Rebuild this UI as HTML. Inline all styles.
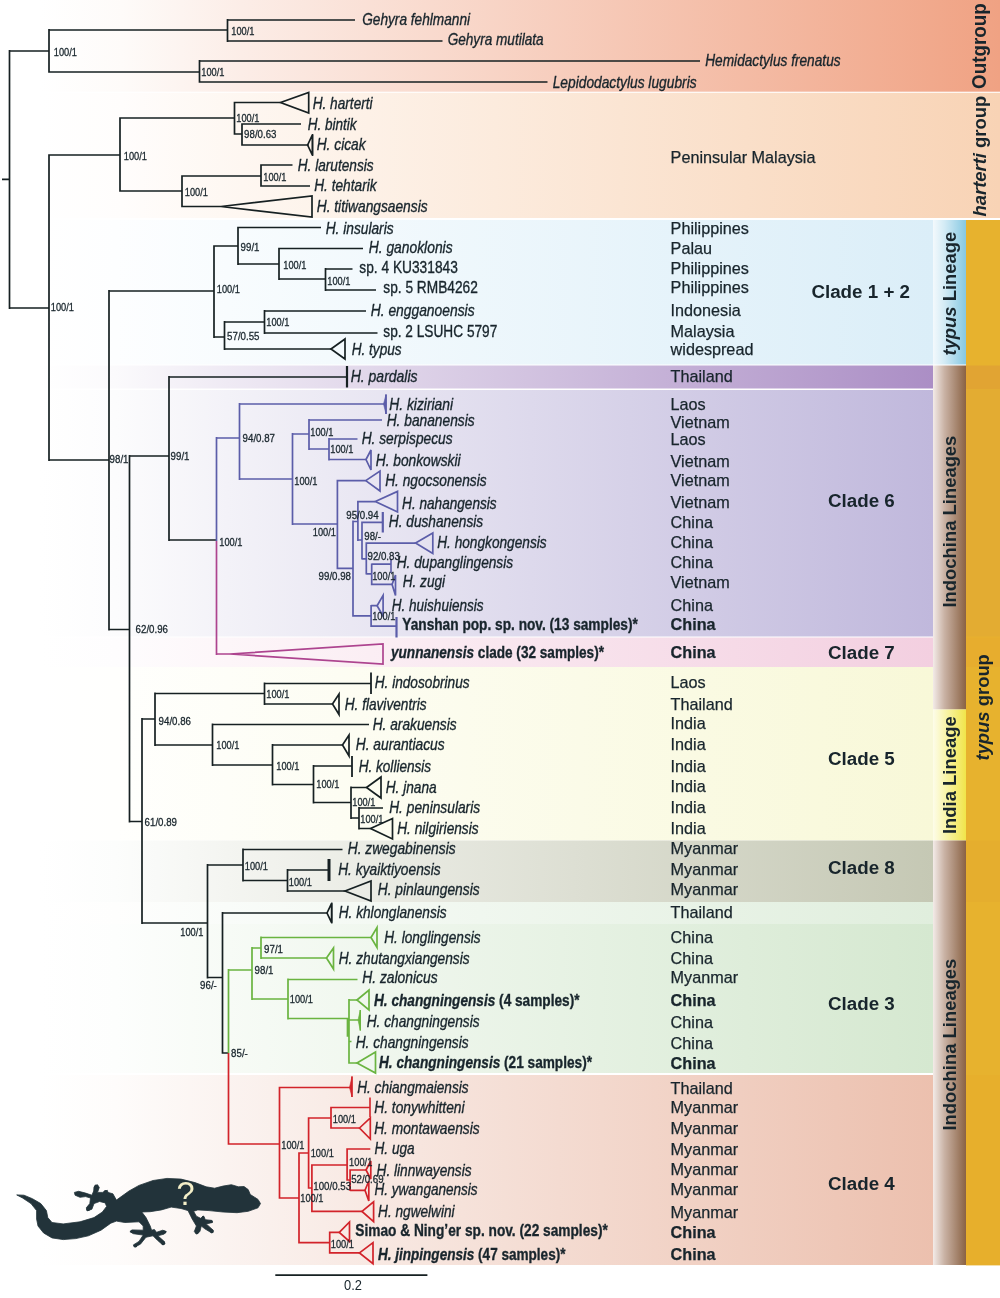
<!DOCTYPE html>
<html><head><meta charset="utf-8"><title>Phylogeny</title>
<style>html,body{margin:0;padding:0;background:#fff}svg{display:block;will-change:transform}text{font-family:"Liberation Sans",sans-serif}</style>
</head><body>
<svg width="1000" height="1298" viewBox="0 0 1000 1298">
<rect width="1000" height="1298" fill="#ffffff"/>
<defs>
<linearGradient id="b0" gradientUnits="userSpaceOnUse" x1="40" x2="1000" y1="0" y2="0"><stop offset="0" stop-color="#ffffff"/><stop offset="0.085" stop-color="#fefbf9"/><stop offset="0.21" stop-color="#fcede7"/><stop offset="1" stop-color="#f0a283"/></linearGradient>
<linearGradient id="b1" gradientUnits="userSpaceOnUse" x1="40" x2="1000" y1="0" y2="0"><stop offset="0" stop-color="#ffffff"/><stop offset="0.085" stop-color="#fffdfc"/><stop offset="0.21" stop-color="#fef7f1"/><stop offset="1" stop-color="#f8d3b5"/></linearGradient>
<linearGradient id="b2" gradientUnits="userSpaceOnUse" x1="40" x2="933" y1="0" y2="0"><stop offset="0" stop-color="#ffffff"/><stop offset="0.085" stop-color="#fdfeff"/><stop offset="0.21" stop-color="#f8fcfe"/><stop offset="1" stop-color="#dbeef8"/></linearGradient>
<linearGradient id="b3" gradientUnits="userSpaceOnUse" x1="40" x2="933" y1="0" y2="0"><stop offset="0" stop-color="#ffffff"/><stop offset="0.085" stop-color="#fbfafc"/><stop offset="0.21" stop-color="#efeaf4"/><stop offset="1" stop-color="#ab8ec5"/></linearGradient>
<linearGradient id="b4" gradientUnits="userSpaceOnUse" x1="40" x2="933" y1="0" y2="0"><stop offset="0" stop-color="#ffffff"/><stop offset="0.085" stop-color="#fcfcfd"/><stop offset="0.21" stop-color="#f3f2f8"/><stop offset="1" stop-color="#c0b8dc"/></linearGradient>
<linearGradient id="b5" gradientUnits="userSpaceOnUse" x1="40" x2="933" y1="0" y2="0"><stop offset="0" stop-color="#ffffff"/><stop offset="0.085" stop-color="#fefdfe"/><stop offset="0.21" stop-color="#fdf6f9"/><stop offset="1" stop-color="#f3cfe0"/></linearGradient>
<linearGradient id="b6" gradientUnits="userSpaceOnUse" x1="40" x2="933" y1="0" y2="0"><stop offset="0" stop-color="#ffffff"/><stop offset="0.085" stop-color="#fffffd"/><stop offset="0.21" stop-color="#fefef8"/><stop offset="1" stop-color="#f8f8d8"/></linearGradient>
<linearGradient id="b7" gradientUnits="userSpaceOnUse" x1="40" x2="933" y1="0" y2="0"><stop offset="0" stop-color="#ffffff"/><stop offset="0.085" stop-color="#fcfdfc"/><stop offset="0.21" stop-color="#f4f5f1"/><stop offset="1" stop-color="#c5c8b4"/></linearGradient>
<linearGradient id="b8" gradientUnits="userSpaceOnUse" x1="40" x2="933" y1="0" y2="0"><stop offset="0" stop-color="#ffffff"/><stop offset="0.085" stop-color="#fefefd"/><stop offset="0.21" stop-color="#f9fcf9"/><stop offset="1" stop-color="#e0eedd"/></linearGradient>
<linearGradient id="b9" gradientUnits="userSpaceOnUse" x1="40" x2="933" y1="0" y2="0"><stop offset="0" stop-color="#ffffff"/><stop offset="0.085" stop-color="#fdfefd"/><stop offset="0.21" stop-color="#f7fbf6"/><stop offset="1" stop-color="#d5e8d0"/></linearGradient>
<linearGradient id="b10" gradientUnits="userSpaceOnUse" x1="40" x2="933" y1="0" y2="0"><stop offset="0" stop-color="#ffffff"/><stop offset="0.085" stop-color="#fefcfb"/><stop offset="0.21" stop-color="#fbf3f0"/><stop offset="1" stop-color="#ecc0ae"/></linearGradient>
<linearGradient id="gblue" x1="0" x2="1" y1="0" y2="0"><stop offset="0" stop-color="#f3f9fc"/><stop offset="0.35" stop-color="#d3ebf5"/><stop offset="1" stop-color="#86c8e2"/></linearGradient>
<linearGradient id="gbrown" x1="0" x2="1" y1="0" y2="0"><stop offset="0" stop-color="#f3ebe8"/><stop offset="0.35" stop-color="#c9b2a4"/><stop offset="1" stop-color="#8a6244"/></linearGradient>
<linearGradient id="gyel" x1="0" x2="1" y1="0" y2="0"><stop offset="0" stop-color="#fdfce9"/><stop offset="0.4" stop-color="#f8f4a8"/><stop offset="1" stop-color="#f1e54a"/></linearGradient>
</defs>
<rect x="40" y="0" width="960" height="91.7" fill="url(#b0)"/>
<rect x="40" y="92.8" width="960" height="125.2" fill="url(#b1)"/>
<rect x="40" y="220" width="893" height="144.5" fill="url(#b2)"/>
<rect x="40" y="365.5" width="893" height="23.0" fill="url(#b3)"/>
<rect x="40" y="390" width="893" height="246.5" fill="url(#b4)"/>
<rect x="40" y="637.5" width="893" height="29.5" fill="url(#b5)"/>
<rect x="40" y="667" width="893" height="173.5" fill="url(#b6)"/>
<rect x="40" y="840.5" width="893" height="61.5" fill="url(#b7)"/>
<rect x="40" y="902" width="893" height="22" fill="url(#b8)"/>
<rect x="40" y="924" width="893" height="149" fill="url(#b9)"/>
<rect x="40" y="1075" width="893" height="190" fill="url(#b10)"/>
<rect x="933" y="220" width="33" height="144.5" fill="url(#gblue)"/>
<rect x="933" y="365.5" width="33" height="344" fill="url(#gbrown)"/>
<rect x="933" y="709.5" width="33" height="131" fill="url(#gyel)"/>
<rect x="933" y="840.5" width="33" height="424.5" fill="url(#gbrown)"/>
<rect x="966" y="220" width="34" height="1045.4" fill="#e7b22e"/>
<rect x="966" y="365.5" width="34" height="23.5" fill="#d88a3c" opacity="0.35"/>
<rect x="966" y="389" width="34" height="247.5" fill="#d89a40" opacity="0.25"/>
<rect x="966" y="637.5" width="34" height="29.5" fill="#e8a030" opacity="0.25"/>
<rect x="966" y="840.5" width="34" height="61.5" fill="#e0a030" opacity="0.2"/>
<rect x="966" y="1075" width="34" height="190" fill="#e8a828" opacity="0.3"/>
<path d="M16.7 1194.9 L24 1195.2 L32.4 1198.7 L40.8 1203.6 L46.4 1210.6 L47.8 1217.6 L52 1222.5 L63.2 1223.9 L80 1221.8 L94 1217.6 L102.4 1212 L106.6 1206.4 L105.2 1202.9 L99.6 1201.5 L94 1203.6 L91.9 1209.2 L87 1210.9 L86.3 1207.8 L89.8 1203.6 L90.5 1198 L85.6 1196.6 L80 1197.3 L75.1 1195.2 L74.4 1192.4 L78.6 1191.3 L85.6 1193.1 L91.9 1195.2 L93.7 1191 L94 1186.8 L97.5 1184.7 L99.3 1187.5 L97.5 1192.4 L102.4 1192.4 L107.3 1190.3 L108 1192.4 L112.9 1193.8 L116.4 1200.1 L129 1191 L139 1185.4 L153 1180.5 L167 1178.4 L181 1179.1 L195 1182.6 L206.2 1186.8 L214.6 1188.2 L223 1186.1 L231.4 1184.7 L238.4 1186.8 L244 1186.5 L248.2 1189.6 L250.3 1194.5 L258 1199.4 L260.5 1203.6 L258 1207.8 L248.2 1211.3 L237 1212.7 L223 1212 L209 1210.6 L197.8 1209.9 L193.6 1211.3 L196.4 1216.2 L200.6 1218.3 L203.4 1216.2 L205.5 1219.7 L211.8 1220.4 L212.5 1222.5 L206.2 1223.9 L213.2 1230.2 L211.8 1233 L204.8 1228.8 L201.3 1226 L199.9 1231.6 L196.4 1234.1 L194.3 1231.6 L196.4 1226 L192.2 1219 L188 1210.6 L181 1208.5 L171.2 1207.1 L161.4 1209.9 L150.2 1211.7 L141.8 1212 L146 1217.6 L150.2 1226 L151.6 1230.2 L154.4 1229.5 L156.5 1232.3 L162.8 1230.2 L166.3 1231.6 L164.2 1234.1 L157.9 1235.8 L164.9 1242.1 L162.8 1244.9 L157.2 1240 L153 1235.8 L146 1237.2 L140.4 1244.2 L134.8 1247 L133.4 1244.9 L139 1241.4 L143.2 1235.1 L133.4 1233.7 L129.9 1231.6 L132 1229.9 L143.2 1230.2 L143.2 1226 L139 1221.8 L124.8 1222.5 L116.4 1221.1 L110.8 1223.2 L101 1230.2 L88.4 1235.8 L75.8 1238.6 L63.2 1239.6 L52 1237.9 L43.6 1233 L38 1226 L36.6 1219 L36.6 1210.6 L31 1203.6 L22.6 1198 Z" fill="#22333a" stroke="#22333a" stroke-width="0.8" stroke-linejoin="round"/>
<ellipse cx="78.5" cy="1193.6" rx="2.6" ry="1.7" fill="#22333a"/><ellipse cx="96" cy="1186.8" rx="1.8" ry="2.2" fill="#22333a"/><ellipse cx="88.3" cy="1209.3" rx="1.8" ry="1.8" fill="#22333a"/><ellipse cx="105.5" cy="1191.6" rx="1.8" ry="1.5" fill="#22333a"/><ellipse cx="132.8" cy="1231.6" rx="2.6" ry="1.6" fill="#22333a"/><ellipse cx="135.3" cy="1245.8" rx="2.0" ry="1.6" fill="#22333a"/><ellipse cx="164" cy="1232" rx="2.4" ry="1.6" fill="#22333a"/><ellipse cx="163.3" cy="1243.3" rx="1.9" ry="1.9" fill="#22333a"/><ellipse cx="210.8" cy="1221.6" rx="2.0" ry="1.4" fill="#22333a"/><ellipse cx="212" cy="1231.4" rx="1.8" ry="1.8" fill="#22333a"/><ellipse cx="197" cy="1232.2" rx="1.7" ry="2.0" fill="#22333a"/><ellipse cx="203.2" cy="1217.4" rx="1.4" ry="1.6" fill="#22333a"/>
<text x="185.5" y="1204.5" text-anchor="middle" font-size="32.5" fill="#f4efc8">?</text>
<path d="M2.0 179.3H9.5M9.5 50.1V308.9M9.5 51.0H49.0M49.0 29.1V72.8M49.0 30.0H227.5M227.5 19.1V41.9M227.5 20.0H355.0M227.5 41.0H442.5M49.0 72.0H199.5M199.5 60.1V82.8M199.5 61.0H700.0M199.5 82.0H547.5M9.5 308.0H49.0M49.0 154.2V460.9M49.0 155.0H120.0M120.0 117.2V191.8M120.0 118.0H234.5M234.5 101.7V134.8M234.5 102.5H280.5M234.5 134.0H242.0M242.0 123.2V145.8M242.0 124.0H301.0M242.0 145.0H308.7M120.0 191.0H182.0M182.0 175.2V207.3M182.0 176.0H261.0M261.0 164.2V186.8M261.0 165.0H292.5M261.0 186.0H310.0M182.0 206.5H221.0M49.0 460.0H109.0M109.0 290.1V630.4M109.0 291.0H214.0M214.0 245.2V337.9M214.0 246.0H238.0M238.0 226.7V264.9M238.0 227.5H321.0M238.0 264.0H279.0M279.0 247.7V279.9M279.0 248.5H363.0M279.0 279.0H325.5M325.5 268.1V290.9M325.5 269.0H352.5M325.5 290.0H376.0M214.0 337.0H224.5M224.5 321.1V349.9M224.5 322.0H264.5M264.5 310.1V333.9M264.5 311.0H366.0M264.5 333.0H377.5M224.5 349.0H331.0M109.0 629.5H129.5M129.5 455.1V822.4M129.5 456.0H169.0M169.0 376.1V540.9M169.0 377.0H347.0M169.0 540.0H216.5M129.5 821.5H142.0M142.0 718.1V923.9M142.0 719.0H155.0M155.0 692.6V745.9M155.0 693.5H264.5M264.5 682.6V704.9M264.5 683.5H371.0M264.5 704.0H332.5M155.0 745.0H212.5M212.5 723.6V765.9M212.5 724.5H369.0M212.5 765.0H272.5M272.5 744.1V785.4M272.5 745.0H342.5M272.5 784.5H313.5M313.5 765.1V803.4M313.5 766.0H352.0M313.5 802.5H351.0M351.0 786.6V818.9M351.0 787.5H366.5M351.0 818.0H359.0M359.0 807.1V829.4M359.0 808.0H383.0M359.0 828.5H370.5M142.0 923.0H207.5M207.5 864.1V978.4M207.5 865.0H243.0M243.0 848.6V881.4M243.0 849.5H342.5M243.0 880.5H287.5M287.5 869.1V891.9M287.5 870.0H329.0M287.5 891.0H345.0M207.5 977.5H222.5M222.5 912.1V1053.8M222.5 913.0H328.0M222.5 1053.0H228.5M275.3 1275.2H427.4" stroke="#162022" stroke-width="1.7" fill="none" stroke-linecap="butt"/>
<path d="M280.5 102.5L308.7 92.5V113.0ZM307.6 145.0L312.4 134.8V155.2ZM221.0 206.5L312.0 196.0V217.0ZM331.0 349.0L345.0 339.0V359.0ZM332.5 704.0L339.0 694.0V714.5ZM342.5 745.0L349.0 735.0V756.0ZM366.5 787.5L381.0 777.0V798.0ZM370.5 828.5L392.5 818.5V839.0ZM345.0 891.0L371.0 881.0V901.0ZM327.0 913.0L331.6 903.3V922.7Z" stroke="#162022" stroke-width="1.7" fill="none" stroke-linejoin="miter"/>
<rect x="311.90" y="134" width="1.4" height="22" fill="#162022"/>
<rect x="345.90" y="366" width="2.2" height="21.5" fill="#162022"/>
<rect x="370.10" y="672.5" width="1.8" height="21.5" fill="#162022"/>
<rect x="351.10" y="756" width="1.8" height="21" fill="#162022"/>
<rect x="327.50" y="859" width="3" height="22" fill="#162022"/>
<rect x="331.10" y="902.5" width="1.4" height="21.0" fill="#162022"/>
<path d="M216.5 437.1V540.9M216.5 438.0H239.5M239.5 403.1V479.9M239.5 404.0H384.0M239.5 479.0H292.5M292.5 433.1V524.9M292.5 434.0H309.0M309.0 419.1V449.9M309.0 420.0H382.0M309.0 449.0H329.0M329.0 438.1V460.4M329.0 439.0H357.5M329.0 459.5H366.0M292.5 524.0H337.4M337.4 479.8V569.2M337.4 480.6H365.7M337.4 568.4H353.0M353.0 520.6V616.8M353.0 521.5H357.9M357.9 500.8V540.9M357.9 501.6H375.3M357.9 540.0H362.0M362.0 521.4V559.6M362.0 522.3H382.8M362.0 558.8H366.3M366.3 542.2V574.6M366.3 543.1H415.6M366.3 573.8H371.7M371.7 563.4V585.2M371.7 564.2H391.0M371.7 584.4H392.1M353.0 615.9H371.1M371.1 604.9V627.0M371.1 605.7H377.1M371.1 626.1H396.3" stroke="#5b5da9" stroke-width="1.7" fill="none" stroke-linecap="butt"/>
<path d="M366.0 459.5L371.0 450.0V470.0ZM365.7 480.6L380.0 471.0V491.0ZM375.3 501.6L397.5 491.4V511.9ZM415.6 543.1L432.8 533.0V553.6ZM392.1 584.4L395.5 575.0V595.4ZM377.1 605.7L383.1 595.4V616.0Z" stroke="#5b5da9" stroke-width="1.7" fill="none" stroke-linejoin="miter"/>
<path d="M383.5 404.0L386.0 394.5V414.0Z" stroke="#5b5da9" stroke-width="0.6" fill="#5b5da9"/>
<rect x="385.10" y="394.5" width="1.8" height="19.5" fill="#5b5da9"/>
<rect x="381.70" y="512" width="2.2" height="20.5" fill="#5b5da9"/>
<rect x="390.20" y="559" width="1.6" height="14" fill="#5b5da9"/>
<rect x="395.40" y="617" width="2.2" height="20.5" fill="#5b5da9"/>
<path d="M216.5 540.9V654.9M216.5 654.0H230.0" stroke="#ad448f" stroke-width="1.7" fill="none" stroke-linecap="butt"/>
<path d="M230.0 654.0L383.0 644.0V664.0Z" stroke="#ad448f" stroke-width="1.7" fill="none" stroke-linejoin="miter"/>
<path d="M228.5 969.1V1053.0M228.5 970.0H252.0M252.0 947.1V999.9M252.0 948.0H261.0M261.0 936.6V958.9M261.0 937.5H371.0M261.0 958.0H326.5M252.0 999.0H288.0M288.0 978.6V1019.4M288.0 979.5H357.5M288.0 1018.5H349.0M349.0 999.1V1063.8M349.0 1000.0H357.0M349.0 1020.0H359.0M347.5 1018.1V1036.8M349.0 1041.5H351.5M349.0 1063.0H357.0" stroke="#6ab440" stroke-width="1.7" fill="none" stroke-linecap="butt"/>
<path d="M371.0 937.5L377.0 927.5V947.5ZM326.5 958.0L333.5 948.0V969.0ZM357.0 1000.0L369.0 990.0V1010.0ZM357.0 1063.0L375.5 1052.0V1073.0Z" stroke="#6ab440" stroke-width="1.7" fill="none" stroke-linejoin="miter"/>
<path d="M358.0 1020.0L360.3 1010.0V1030.5Z" stroke="#6ab440" stroke-width="0.6" fill="#6ab440"/>
<rect x="359.60" y="1010" width="1.4" height="20.5" fill="#6ab440"/>
<path d="M228.5 1053.0V1144.8M228.5 1144.0H279.5M279.5 1086.7V1198.8M279.5 1087.5H350.0M279.5 1198.0H299.0M299.0 1152.2V1243.4M299.0 1153.0H308.6M308.6 1117.2V1188.8M308.6 1118.0H331.0M331.0 1106.7V1128.8M331.0 1107.5H370.0M331.0 1128.0H359.5M308.6 1188.0H311.9M311.9 1164.2V1212.2M311.9 1165.0H347.1M347.1 1148.2V1180.8M347.1 1149.0H370.3M347.1 1180.0H350.1M350.1 1169.2V1191.1M350.1 1170.0H366.0M350.1 1190.3H365.0M311.9 1211.4H362.0M299.0 1242.6H329.7M329.7 1231.6V1253.8M329.7 1232.4H339.3M329.7 1252.9H359.5" stroke="#d2232a" stroke-width="1.7" fill="none" stroke-linecap="butt"/>
<path d="M359.5 1128.0L370.3 1118.0V1139.0ZM366.0 1170.0L370.8 1161.0V1179.0ZM365.0 1190.3L368.8 1181.0V1201.0ZM362.0 1211.4L373.6 1201.8V1221.6ZM339.3 1232.4L349.5 1222.0V1241.5ZM359.5 1252.9L373.0 1242.6V1263.7Z" stroke="#d2232a" stroke-width="1.7" fill="none" stroke-linejoin="miter"/>
<path d="M349.5 1087.5L352.0 1076.5V1097.0Z" stroke="#d2232a" stroke-width="0.6" fill="#d2232a"/>
<rect x="351.20" y="1076.5" width="1.6" height="20.5" fill="#d2232a"/>
<rect x="369.20" y="1097.5" width="1.6" height="19.5" fill="#d2232a"/>
<g font-size="11.3" fill="#18252c" stroke="#18252c" stroke-width="0.3">
<text transform="translate(53.8 55.5) scale(0.82 1)">100/1</text>
<text transform="translate(231.3 34.5) scale(0.82 1)">100/1</text>
<text transform="translate(201.3 76.0) scale(0.82 1)">100/1</text>
<text transform="translate(50.8 311.0) scale(0.82 1)">100/1</text>
<text transform="translate(123.8 159.5) scale(0.82 1)">100/1</text>
<text transform="translate(236.3 121.5) scale(0.82 1)">100/1</text>
<text transform="translate(244.1 138.0) scale(0.86 1)">98/0.63</text>
<text transform="translate(263.3 180.5) scale(0.82 1)">100/1</text>
<text transform="translate(184.8 196.0) scale(0.82 1)">100/1</text>
<text transform="translate(216.8 293.0) scale(0.82 1)">100/1</text>
<text transform="translate(240.6 251.0) scale(0.86 1)">99/1</text>
<text transform="translate(283.3 269.0) scale(0.82 1)">100/1</text>
<text transform="translate(327.3 284.5) scale(0.82 1)">100/1</text>
<text transform="translate(266.3 326.0) scale(0.82 1)">100/1</text>
<text transform="translate(227.1 340.0) scale(0.86 1)">57/0.55</text>
<text transform="translate(109.6 462.5) scale(0.86 1)">98/1</text>
<text transform="translate(170.6 460.0) scale(0.86 1)">99/1</text>
<text transform="translate(219.3 545.5) scale(0.82 1)">100/1</text>
<text transform="translate(242.6 442.0) scale(0.86 1)">94/0.87</text>
<text transform="translate(294.3 484.5) scale(0.82 1)">100/1</text>
<text transform="translate(310.3 436.0) scale(0.82 1)">100/1</text>
<text transform="translate(330.3 453.0) scale(0.82 1)">100/1</text>
<text transform="translate(312.8 536.0) scale(0.82 1)">100/1</text>
<text transform="translate(318.6 579.6) scale(0.86 1)">99/0.98</text>
<text transform="translate(346.3 518.7) scale(0.86 1)">95/0.94</text>
<text transform="translate(364.3 540.0) scale(0.86 1)">98/-</text>
<text transform="translate(367.5 560.0) scale(0.86 1)">92/0.83</text>
<text transform="translate(372.2 579.6) scale(0.82 1)">100/1</text>
<text transform="translate(372.2 620.4) scale(0.82 1)">100/1</text>
<text transform="translate(135.6 633.0) scale(0.86 1)">62/0.96</text>
<text transform="translate(144.6 826.0) scale(0.86 1)">61/0.89</text>
<text transform="translate(158.6 724.5) scale(0.86 1)">94/0.86</text>
<text transform="translate(216.3 748.5) scale(0.82 1)">100/1</text>
<text transform="translate(266.3 698.0) scale(0.82 1)">100/1</text>
<text transform="translate(276.3 770.0) scale(0.82 1)">100/1</text>
<text transform="translate(316.3 787.5) scale(0.82 1)">100/1</text>
<text transform="translate(352.3 806.0) scale(0.82 1)">100/1</text>
<text transform="translate(360.3 822.5) scale(0.82 1)">100/1</text>
<text transform="translate(244.8 870.0) scale(0.82 1)">100/1</text>
<text transform="translate(288.8 885.5) scale(0.82 1)">100/1</text>
<text transform="translate(180.3 935.5) scale(0.82 1)">100/1</text>
<text transform="translate(200.1 988.5) scale(0.86 1)">96/-</text>
<text transform="translate(231.1 1057.0) scale(0.86 1)">85/-</text>
<text transform="translate(254.6 974.0) scale(0.86 1)">98/1</text>
<text transform="translate(264.1 953.0) scale(0.86 1)">97/1</text>
<text transform="translate(289.8 1002.5) scale(0.82 1)">100/1</text>
<text transform="translate(281.3 1148.5) scale(0.82 1)">100/1</text>
<text transform="translate(300.3 1201.8) scale(0.82 1)">100/1</text>
<text transform="translate(310.7 1157.3) scale(0.82 1)">100/1</text>
<text transform="translate(332.8 1122.5) scale(0.82 1)">100/1</text>
<text transform="translate(313.3 1190.0) scale(0.86 1)">100/0.53</text>
<text transform="translate(349.1 1166.0) scale(0.82 1)">100/1</text>
<text transform="translate(351.2 1183.0) scale(0.86 1)">52/0.69</text>
<text transform="translate(330.8 1247.5) scale(0.82 1)">100/1</text>
</g>
<text transform="translate(344 1290) scale(0.86 1)" font-size="15" fill="#18252c">0.2</text>
<g font-size="16.4" fill="#18252c" stroke="#18252c" stroke-width="0.35">
<text x="362.2" y="24.5" textLength="107.9" lengthAdjust="spacingAndGlyphs" font-style="italic">Gehyra fehlmanni</text>
<text x="447.7" y="45.0" textLength="95.9" lengthAdjust="spacingAndGlyphs" font-style="italic">Gehyra mutilata</text>
<text x="705.2" y="66.0" textLength="135.4" lengthAdjust="spacingAndGlyphs" font-style="italic">Hemidactylus frenatus</text>
<text x="552.7" y="87.5" textLength="143.9" lengthAdjust="spacingAndGlyphs" font-style="italic">Lepidodactylus lugubris</text>
<text x="312.7" y="109.0" textLength="59.9" lengthAdjust="spacingAndGlyphs" font-style="italic">H. harterti</text>
<text x="307.7" y="130.0" textLength="48.9" lengthAdjust="spacingAndGlyphs" font-style="italic">H. bintik</text>
<text x="316.7" y="150.0" textLength="48.9" lengthAdjust="spacingAndGlyphs" font-style="italic">H. cicak</text>
<text x="297.7" y="171.0" textLength="75.9" lengthAdjust="spacingAndGlyphs" font-style="italic">H. larutensis</text>
<text x="314.2" y="191.0" textLength="62.4" lengthAdjust="spacingAndGlyphs" font-style="italic">H. tehtarik</text>
<text x="316.7" y="212.0" textLength="110.9" lengthAdjust="spacingAndGlyphs" font-style="italic">H. titiwangsaensis</text>
<text x="325.7" y="233.5" textLength="67.9" lengthAdjust="spacingAndGlyphs" font-style="italic">H. insularis</text>
<text x="368.7" y="253.0" textLength="83.9" lengthAdjust="spacingAndGlyphs" font-style="italic">H. ganoklonis</text>
<text x="359.3" y="273.0" textLength="98.5" lengthAdjust="spacingAndGlyphs">sp. 4 KU331843</text>
<text x="383.3" y="293.0" textLength="94.5" lengthAdjust="spacingAndGlyphs">sp. 5 RMB4262</text>
<text x="370.7" y="316.0" textLength="103.9" lengthAdjust="spacingAndGlyphs" font-style="italic">H. engganoensis</text>
<text x="383.3" y="337.0" textLength="114.0" lengthAdjust="spacingAndGlyphs">sp. 2 LSUHC 5797</text>
<text x="351.7" y="354.5" textLength="49.9" lengthAdjust="spacingAndGlyphs" font-style="italic">H. typus</text>
<text x="350.7" y="382.0" textLength="66.9" lengthAdjust="spacingAndGlyphs" font-style="italic">H. pardalis</text>
<text x="389.2" y="409.5" textLength="63.9" lengthAdjust="spacingAndGlyphs" font-style="italic">H. kiziriani</text>
<text x="386.7" y="426.0" textLength="87.9" lengthAdjust="spacingAndGlyphs" font-style="italic">H. bananensis</text>
<text x="361.7" y="444.0" textLength="90.9" lengthAdjust="spacingAndGlyphs" font-style="italic">H. serpispecus</text>
<text x="375.7" y="466.0" textLength="84.9" lengthAdjust="spacingAndGlyphs" font-style="italic">H. bonkowskii</text>
<text x="385.2" y="486.0" textLength="101.4" lengthAdjust="spacingAndGlyphs" font-style="italic">H. ngocsonensis</text>
<text x="402.1" y="508.6" textLength="94.5" lengthAdjust="spacingAndGlyphs" font-style="italic">H. nahangensis</text>
<text x="388.8" y="526.7" textLength="94.3" lengthAdjust="spacingAndGlyphs" font-style="italic">H. dushanensis</text>
<text x="437.2" y="547.5" textLength="109.4" lengthAdjust="spacingAndGlyphs" font-style="italic">H. hongkongensis</text>
<text x="396.7" y="567.5" textLength="116.4" lengthAdjust="spacingAndGlyphs" font-style="italic">H. dupanglingensis</text>
<text x="402.7" y="587.0" textLength="42.4" lengthAdjust="spacingAndGlyphs" font-style="italic">H. zugi</text>
<text x="391.7" y="610.5" textLength="91.9" lengthAdjust="spacingAndGlyphs" font-style="italic">H. huishuiensis</text>
<text x="402.3" y="629.5" textLength="235.5" lengthAdjust="spacingAndGlyphs" font-weight="bold">Yanshan pop. sp. nov. (13 samples)*</text>
<text x="391.0" y="657.5" textLength="213.0" lengthAdjust="spacingAndGlyphs" font-weight="bold"><tspan font-style="italic">yunnanensis</tspan> clade (32 samples)*</text>
<text x="374.7" y="687.5" textLength="94.9" lengthAdjust="spacingAndGlyphs" font-style="italic">H. indosobrinus</text>
<text x="344.7" y="709.5" textLength="81.9" lengthAdjust="spacingAndGlyphs" font-style="italic">H. flaviventris</text>
<text x="372.7" y="729.5" textLength="83.9" lengthAdjust="spacingAndGlyphs" font-style="italic">H. arakuensis</text>
<text x="355.7" y="749.5" textLength="88.9" lengthAdjust="spacingAndGlyphs" font-style="italic">H. aurantiacus</text>
<text x="358.7" y="771.5" textLength="72.4" lengthAdjust="spacingAndGlyphs" font-style="italic">H. kolliensis</text>
<text x="385.7" y="792.5" textLength="50.9" lengthAdjust="spacingAndGlyphs" font-style="italic">H. jnana</text>
<text x="389.2" y="813.0" textLength="90.9" lengthAdjust="spacingAndGlyphs" font-style="italic">H. peninsularis</text>
<text x="397.2" y="833.5" textLength="81.4" lengthAdjust="spacingAndGlyphs" font-style="italic">H. nilgiriensis</text>
<text x="347.7" y="853.5" textLength="107.9" lengthAdjust="spacingAndGlyphs" font-style="italic">H. zwegabinensis</text>
<text x="338.2" y="875.0" textLength="102.4" lengthAdjust="spacingAndGlyphs" font-style="italic">H. kyaiktiyoensis</text>
<text x="377.7" y="895.0" textLength="101.9" lengthAdjust="spacingAndGlyphs" font-style="italic">H. pinlaungensis</text>
<text x="338.7" y="918.0" textLength="107.9" lengthAdjust="spacingAndGlyphs" font-style="italic">H. khlonglanensis</text>
<text x="384.2" y="942.5" textLength="96.4" lengthAdjust="spacingAndGlyphs" font-style="italic">H. longlingensis</text>
<text x="338.7" y="964.0" textLength="130.9" lengthAdjust="spacingAndGlyphs" font-style="italic">H. zhutangxiangensis</text>
<text x="362.2" y="982.5" textLength="75.4" lengthAdjust="spacingAndGlyphs" font-style="italic">H. zalonicus</text>
<text x="374.0" y="1005.5" textLength="205.5" lengthAdjust="spacingAndGlyphs" font-weight="bold"><tspan font-style="italic">H. changningensis</tspan> (4 samples)*</text>
<text x="366.7" y="1027.0" textLength="112.9" lengthAdjust="spacingAndGlyphs" font-style="italic">H. changningensis</text>
<text x="355.7" y="1048.0" textLength="112.9" lengthAdjust="spacingAndGlyphs" font-style="italic">H. changningensis</text>
<text x="379.0" y="1067.5" textLength="213.0" lengthAdjust="spacingAndGlyphs" font-weight="bold"><tspan font-style="italic">H. changningensis</tspan> (21 samples)*</text>
<text x="357.2" y="1092.5" textLength="111.4" lengthAdjust="spacingAndGlyphs" font-style="italic">H. chiangmaiensis</text>
<text x="374.2" y="1112.5" textLength="90.4" lengthAdjust="spacingAndGlyphs" font-style="italic">H. tonywhitteni</text>
<text x="374.2" y="1133.5" textLength="105.4" lengthAdjust="spacingAndGlyphs" font-style="italic">H. montawaensis</text>
<text x="374.5" y="1154.3" textLength="40.1" lengthAdjust="spacingAndGlyphs" font-style="italic">H. uga</text>
<text x="376.5" y="1175.5" textLength="95.1" lengthAdjust="spacingAndGlyphs" font-style="italic">H. linnwayensis</text>
<text x="374.5" y="1194.5" textLength="103.1" lengthAdjust="spacingAndGlyphs" font-style="italic">H. ywanganensis</text>
<text x="378.1" y="1216.8" textLength="76.5" lengthAdjust="spacingAndGlyphs" font-style="italic">H. ngwelwini</text>
<text x="355.3" y="1236.4" textLength="252.5" lengthAdjust="spacingAndGlyphs" font-weight="bold">Simao &amp; Ning’er sp. nov. (22 samples)*</text>
<text x="377.9" y="1259.5" textLength="187.6" lengthAdjust="spacingAndGlyphs" font-weight="bold"><tspan font-style="italic">H. jinpingensis</tspan> (47 samples)*</text>
</g>
<g font-size="16.2" fill="#18252c" stroke="#18252c" stroke-width="0.25">
<text x="670.6" y="163">Peninsular Malaysia</text>
<text x="670.6" y="234">Philippines</text>
<text x="670.6" y="253.5">Palau</text>
<text x="670.6" y="274">Philippines</text>
<text x="670.6" y="293">Philippines</text>
<text x="670.6" y="316">Indonesia</text>
<text x="670.6" y="337">Malaysia</text>
<text x="670.6" y="355">widespread</text>
<text x="670.6" y="382">Thailand</text>
<text x="670.6" y="409.5">Laos</text>
<text x="670.6" y="427.5">Vietnam</text>
<text x="670.6" y="445">Laos</text>
<text x="670.6" y="467">Vietnam</text>
<text x="670.6" y="486">Vietnam</text>
<text x="670.6" y="508">Vietnam</text>
<text x="670.6" y="527.5">China</text>
<text x="670.6" y="547.5">China</text>
<text x="670.6" y="568">China</text>
<text x="670.6" y="587.5">Vietnam</text>
<text x="670.6" y="610.5">China</text>
<text x="670.6" y="630" font-weight="bold">China</text>
<text x="670.6" y="657.5" font-weight="bold">China</text>
<text x="670.6" y="687.5">Laos</text>
<text x="670.6" y="709.5">Thailand</text>
<text x="670.6" y="729">India</text>
<text x="670.6" y="750">India</text>
<text x="670.6" y="771.5">India</text>
<text x="670.6" y="791.5">India</text>
<text x="670.6" y="813">India</text>
<text x="670.6" y="833.5">India</text>
<text x="670.6" y="853.5">Myanmar</text>
<text x="670.6" y="875">Myanmar</text>
<text x="670.6" y="895">Myanmar</text>
<text x="670.6" y="918">Thailand</text>
<text x="670.6" y="942.5">China</text>
<text x="670.6" y="964">China</text>
<text x="670.6" y="982.5">Myanmar</text>
<text x="670.6" y="1006" font-weight="bold">China</text>
<text x="670.6" y="1027.5">China</text>
<text x="670.6" y="1049">China</text>
<text x="670.6" y="1068.5" font-weight="bold">China</text>
<text x="670.6" y="1093.5">Thailand</text>
<text x="670.6" y="1112.5">Myanmar</text>
<text x="670.6" y="1134">Myanmar</text>
<text x="670.6" y="1155">Myanmar</text>
<text x="670.6" y="1175">Myanmar</text>
<text x="670.6" y="1195">Myanmar</text>
<text x="670.6" y="1217.5">Myanmar</text>
<text x="670.6" y="1237.5" font-weight="bold">China</text>
<text x="670.6" y="1260" font-weight="bold">China</text>
</g>
<g font-size="18.8" font-weight="bold" fill="#18252c">
<text x="811.4" y="297.5">Clade 1 + 2</text>
<text x="828" y="506.5">Clade 6</text>
<text x="828" y="659">Clade 7</text>
<text x="828" y="764.5">Clade 5</text>
<text x="828" y="873.5">Clade 8</text>
<text x="828" y="1010">Clade 3</text>
<text x="828" y="1190">Clade 4</text>
<text transform="translate(986.3 89) rotate(-90) scale(0.97 1)" font-size="19.4">Outgroup</text>
<text transform="translate(986.3 216.5) rotate(-90) scale(0.96 1)" font-size="19.2"><tspan font-style="italic">harterti</tspan> group</text>
<text transform="translate(955.5 355.5) rotate(-90) scale(0.96 1)" font-size="19.2"><tspan font-style="italic">typus</tspan> Lineage</text>
<text transform="translate(955.5 607.5) rotate(-90) scale(0.96 1)" font-size="19.2">Indochina Lineages</text>
<text transform="translate(955.5 834) rotate(-90) scale(0.96 1)" font-size="19.2">India Lineage</text>
<text transform="translate(955.5 1130.5) rotate(-90) scale(0.96 1)" font-size="19.2">Indochina Lineages</text>
<text transform="translate(989 760.5) rotate(-90) scale(0.96 1)" font-size="19.2"><tspan font-style="italic">typus</tspan> group</text>
</g>
</svg>
</body></html>
